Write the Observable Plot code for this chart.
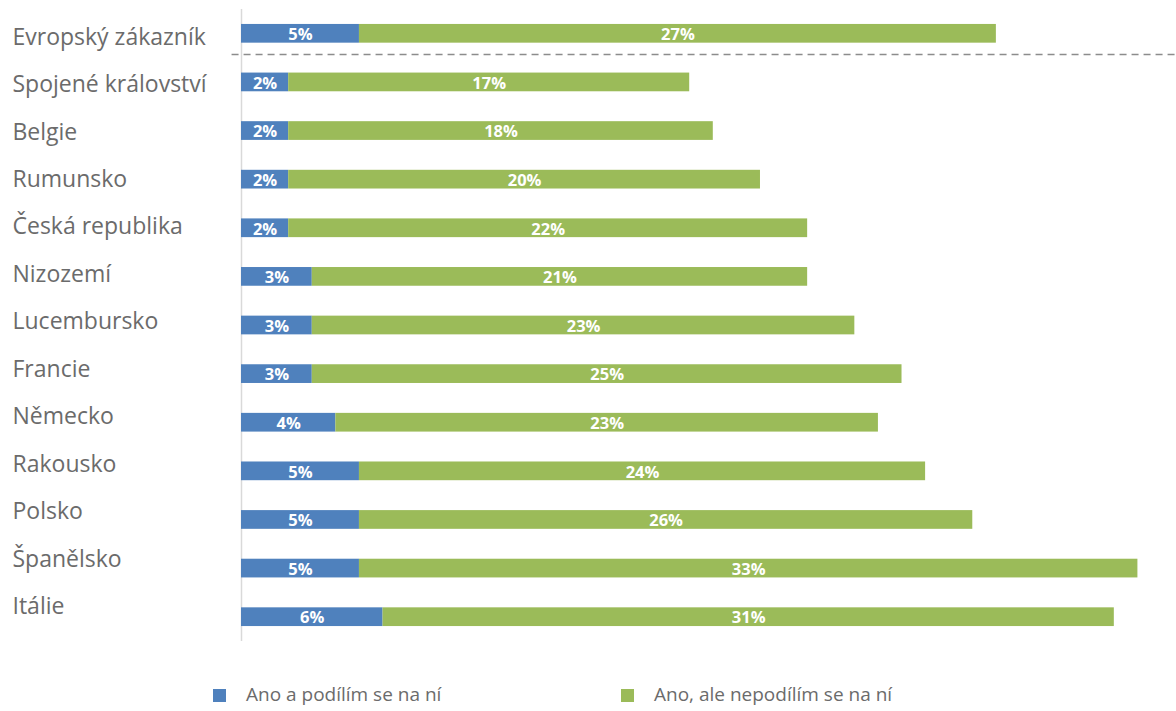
<!DOCTYPE html>
<html>
<head>
<meta charset="utf-8">
<script src="https://cdn.jsdelivr.net/npm/d3@7"></script>
<script src="https://cdn.jsdelivr.net/npm/@observablehq/plot@0.6"></script>
<style>
  body { margin: 0; background: #fff; font-family: "Open Sans", Lato, sans-serif; }
  #chart { position: relative; width: 1176px; height: 650px; }
  #labels { position: absolute; left: 0; top: 0; }
  #legend { position: relative; height: 61px; width: 1176px; }
  .sw { position: absolute; top: 39px; width: 13px; height: 13px; }
  .lt { position: absolute; top: 31px; font-size: 19px; line-height: 26px; color: #6b6b6b; white-space: nowrap; }
</style>
</head>
<body>
<div id="chart"><div id="labels"></div></div>
<div id="legend"></div>
<script>
const countries = ["Evropský zákazník","Spojené království","Belgie","Rumunsko","Česká republika","Nizozemí","Lucembursko","Francie","Německo","Rakousko","Polsko","Španělsko","Itálie"];
const share = [5,2,2,2,2,3,3,3,4,5,5,5,6];
const noShare = [27,17,18,20,22,21,23,25,23,24,26,33,31];
const seriesNames = ["Ano a podílím se na ní", "Ano, ale nepodílím se na ní"];
const seriesColors = ["#4f81bd", "#9bbb59"];

const data = [];
countries.forEach((c, i) => {
  data.push({country: c, series: seriesNames[0], value: share[i]});
  data.push({country: c, series: seriesNames[1], value: noShare[i]});
});

const chart = Plot.plot({
  width: 1176,
  height: 650,
  marginLeft: 241,
  marginRight: 15,
  marginTop: 9,
  marginBottom: 9,
  x: {domain: [0, 39], axis: null},
  y: {domain: countries, paddingInner: 0.615, paddingOuter: 0.3075, round: false, axis: null},
  color: {domain: seriesNames, range: seriesColors},
  style: {fontFamily: "'Open Sans', Lato, sans-serif"},
  marks: [
    Plot.ruleX([0], {stroke: "#d9d9d9", strokeWidth: 1.5}),
    Plot.barX(data, Plot.stackX({x: "value", y: "country", fill: "series", order: null})),
    Plot.text(data, Plot.stackX({x: "value", y: "country", z: "series", order: null,
      text: d => d.value + "%", fill: "white", fontWeight: "bold", fontSize: 16.5, dy: 1})),
    Plot.ruleY([countries[1]], {x1: -0.4, x2: 39.6, dy: -27.9, stroke: "#8c8c8c", strokeWidth: 1.5, strokeDasharray: "7,5"})
  ]
});
document.getElementById("chart").appendChild(chart);

// Category labels (their spacing in the original differs slightly from the bars)
const labels = Plot.plot({
  width: 230,
  height: 650,
  marginLeft: 12,
  marginRight: 0,
  marginTop: 13,
  marginBottom: 20,
  x: {axis: null},
  y: {type: "point", domain: countries, padding: 0.5, round: false, axis: null},
  style: {fontFamily: "'Open Sans', Lato, sans-serif", background: "transparent"},
  marks: [
    Plot.text(countries, {y: d => d, text: d => d, frameAnchor: "left", textAnchor: "start",
      fill: "#6b6b6b", fontSize: 23})
  ]
});
document.getElementById("labels").appendChild(labels);

const legend = document.getElementById("legend");
const swLefts = [213, 621];
const textLefts = [246, 654];
seriesNames.forEach((n, i) => {
  const sw = document.createElement("div");
  sw.className = "sw";
  sw.style.left = swLefts[i] + "px";
  sw.style.background = seriesColors[i];
  const t = document.createElement("div");
  t.className = "lt";
  t.style.left = textLefts[i] + "px";
  t.textContent = n;
  legend.appendChild(sw); legend.appendChild(t);
});
</script>
</body>
</html>
